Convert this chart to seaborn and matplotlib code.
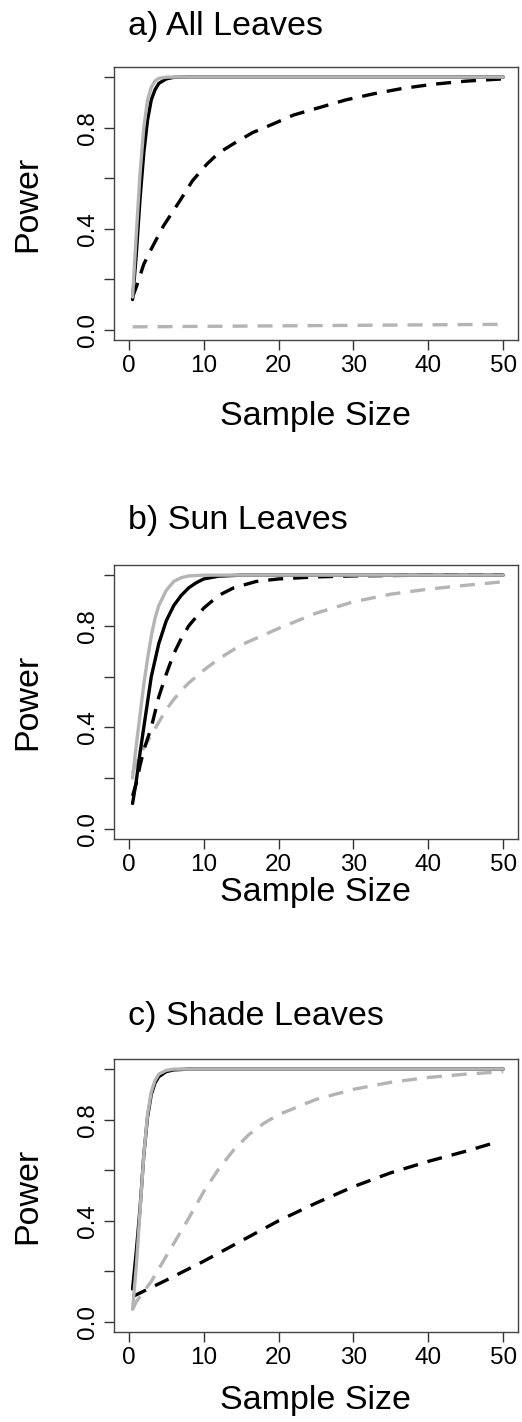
import matplotlib
matplotlib.use("Agg")
import matplotlib.pyplot as plt
import numpy as np
import pandas as pd
import seaborn as sns

# panel titles
titles = ["a) All Leaves", "b) Sun Leaves", "c) Shade Leaves"]

# ---- a) All Leaves ----
a_solid_black_x = [0.5, 1, 1.5, 2, 2.5, 3, 3.5, 4, 5, 6, 8, 50]
a_solid_black_y = [0.12, 0.30, 0.52, 0.70, 0.83, 0.91, 0.95, 0.975, 0.993, 0.999, 1.0, 1.0]
a_solid_gray_x = [0.5, 1, 1.5, 2, 2.5, 3, 3.5, 4, 5, 50]
a_solid_gray_y = [0.13, 0.38, 0.62, 0.80, 0.91, 0.96, 0.985, 0.995, 1.0, 1.0]
a_dash_black_x = [0.5, 1, 2, 3, 4.6, 6.8, 8.5, 10.4, 12, 13.9, 16.5, 19.3, 22, 25.5, 29, 32.7, 36.5, 40.7, 45, 50]
a_dash_black_y = [0.13, 0.17, 0.26, 0.32, 0.41, 0.51, 0.59, 0.655, 0.70, 0.735, 0.78, 0.815, 0.85, 0.88,
                  0.91, 0.934, 0.955, 0.972, 0.984, 0.993]
a_dash_gray_x = [0.5, 10, 20, 30, 40, 50]
a_dash_gray_y = [0.012, 0.014, 0.016, 0.018, 0.02, 0.022]

# ---- b) Sun Leaves ----
b_solid_black_x = [0.5, 1, 1.5, 2, 2.5, 3, 4, 5, 6, 7, 8, 9, 10, 12, 15, 50]
b_solid_black_y = [0.10, 0.19, 0.30, 0.40, 0.50, 0.60, 0.73, 0.82, 0.88, 0.92, 0.95, 0.97, 0.985, 0.996, 1.0, 1.0]
b_solid_gray_x = [0.5, 1, 1.5, 2, 2.5, 3, 3.5, 4, 5, 6, 7, 8, 10, 50]
b_solid_gray_y = [0.20, 0.33, 0.45, 0.57, 0.67, 0.76, 0.83, 0.88, 0.94, 0.975, 0.99, 0.997, 1.0, 1.0]
b_dash_black_x = [0.5, 1, 1.5, 2, 3, 4, 5, 6, 7, 8, 10, 12, 14, 17, 20, 25, 30, 40, 50]
b_dash_black_y = [0.13, 0.18, 0.25, 0.31, 0.40, 0.52, 0.61, 0.69, 0.75, 0.80, 0.87, 0.92, 0.95, 0.975,
                  0.985, 0.993, 0.997, 1.0, 1.0]
b_dash_gray_x = [0.5, 1, 2, 3, 4, 5, 6, 7, 8, 10, 12, 15, 20, 25, 30, 35, 40, 45, 50]
b_dash_gray_y = [0.22, 0.26, 0.32, 0.37, 0.42, 0.47, 0.51, 0.545, 0.575, 0.625, 0.67, 0.725, 0.79,
                 0.85, 0.895, 0.925, 0.945, 0.96, 0.974]

# ---- c) Shade Leaves ----
c_solid_black_x = [0.5, 1, 1.5, 2, 2.5, 3, 3.5, 4, 5, 6, 8, 50]
c_solid_black_y = [0.13, 0.28, 0.45, 0.66, 0.81, 0.90, 0.945, 0.97, 0.99, 0.997, 1.0, 1.0]
c_solid_gray_x = [0.5, 1, 1.5, 2, 2.5, 3, 3.5, 4, 5, 6, 50]
c_solid_gray_y = [0.05, 0.22, 0.44, 0.66, 0.82, 0.91, 0.955, 0.98, 0.995, 1.0, 1.0]
c_dash_black_x = [0.5, 5, 10, 15, 20, 25, 30, 35, 40, 45, 49]
c_dash_black_y = [0.10, 0.165, 0.24, 0.32, 0.40, 0.47, 0.535, 0.59, 0.635, 0.675, 0.71]
c_dash_gray_x = [0.5, 1, 2, 3, 4, 5, 6, 7, 8, 10, 12, 14, 16, 18, 20, 25, 30, 35, 40, 45, 50]
c_dash_gray_y = [0.05, 0.08, 0.12, 0.16, 0.21, 0.26, 0.31, 0.36, 0.41, 0.515, 0.605, 0.68, 0.74, 0.785,
                 0.82, 0.88, 0.92, 0.948, 0.967, 0.98, 0.99]

panels = [
    {"solid_black": (a_solid_black_x, a_solid_black_y), "solid_gray": (a_solid_gray_x, a_solid_gray_y),
     "dash_black": (a_dash_black_x, a_dash_black_y), "dash_gray": (a_dash_gray_x, a_dash_gray_y)},
    {"solid_black": (b_solid_black_x, b_solid_black_y), "solid_gray": (b_solid_gray_x, b_solid_gray_y),
     "dash_black": (b_dash_black_x, b_dash_black_y), "dash_gray": (b_dash_gray_x, b_dash_gray_y)},
    {"solid_black": (c_solid_black_x, c_solid_black_y), "solid_gray": (c_solid_gray_x, c_solid_gray_y),
     "dash_black": (c_dash_black_x, c_dash_black_y), "dash_gray": (c_dash_gray_x, c_dash_gray_y)},
]

curve_order = ["dash_gray", "dash_black", "solid_black", "solid_gray"]
palette = {"solid_black": "black", "solid_gray": "#b4b4b4",
           "dash_black": "black", "dash_gray": "#b4b4b4"}
dashes = {"solid_black": "", "solid_gray": "", "dash_black": (4.5, 3.0), "dash_gray": (4.5, 3.0)}

sns.set_theme(style="ticks")
plt.rcParams["font.family"] = ["Liberation Sans", "DejaVu Sans"]
plt.rcParams["text.color"] = "black"
plt.rcParams["axes.labelcolor"] = "black"
plt.rcParams["xtick.color"] = "black"
plt.rcParams["ytick.color"] = "black"

W, H = 522, 1422
fig = plt.figure(figsize=(W / 100, H / 100), dpi=100)

# box top/bottom in pixels for each panel, plus title and xlabel centres
box_px = [(67, 340), (565, 839), (1059, 1332)]
title_px = [27, 520, 1017]
xlabel_px = [417, 893, 1400]
left_px, right_px = 114, 518

for i, p in enumerate(panels):
    top, bot = box_px[i]
    ax = fig.add_axes([left_px / W, 1 - bot / H, (right_px - left_px) / W, (bot - top) / H])
    rows = []
    for name in curve_order:
        xs, ys = p[name]
        rows.append(pd.DataFrame({"x": xs, "power": ys, "curve": name}))
    df = pd.concat(rows, ignore_index=True)
    sns.lineplot(data=df, x="x", y="power", hue="curve", style="curve",
                 hue_order=curve_order, style_order=curve_order,
                 palette=palette, dashes=dashes, linewidth=2.4,
                 legend=False, ax=ax, sort=True, estimator=None)

    ax.set_xlim(-1.98, 51.98)
    ax.set_ylim(-0.04, 1.04)
    ax.set_xticks([0, 10, 20, 30, 40, 50])
    ax.set_xticklabels(["0", "10", "20", "30", "40", "50"], fontsize=17.5)
    ax.set_yticks([0, 0.2, 0.4, 0.6, 0.8, 1.0])
    ax.set_yticklabels(["0.0", "", "0.4", "", "0.8", ""], fontsize=17.5,
                       rotation=90, va="center")
    ax.tick_params(direction="out", length=7, width=1, color="#333333", pad=4)
    for s in ax.spines.values():
        s.set_visible(True)
        s.set_color("#444444")
        s.set_linewidth(1.0)

    ax.set_xlabel("Sample Size", fontsize=24.5)
    ax.set_ylabel("Power", fontsize=24.5)
    ax.yaxis.set_label_coords((28 - left_px) / (right_px - left_px), 0.5)
    ax.xaxis.set_label_coords(0.5, -(xlabel_px[i] - bot) / (bot - top))
    ax.xaxis.label.set_va("center")
    ax.yaxis.label.set_va("center")

    fig.text(128 / W, 1 - title_px[i] / H, titles[i], fontsize=24.5,
             ha="left", va="center")

fig.savefig("out.png", dpi=100, facecolor="white")
